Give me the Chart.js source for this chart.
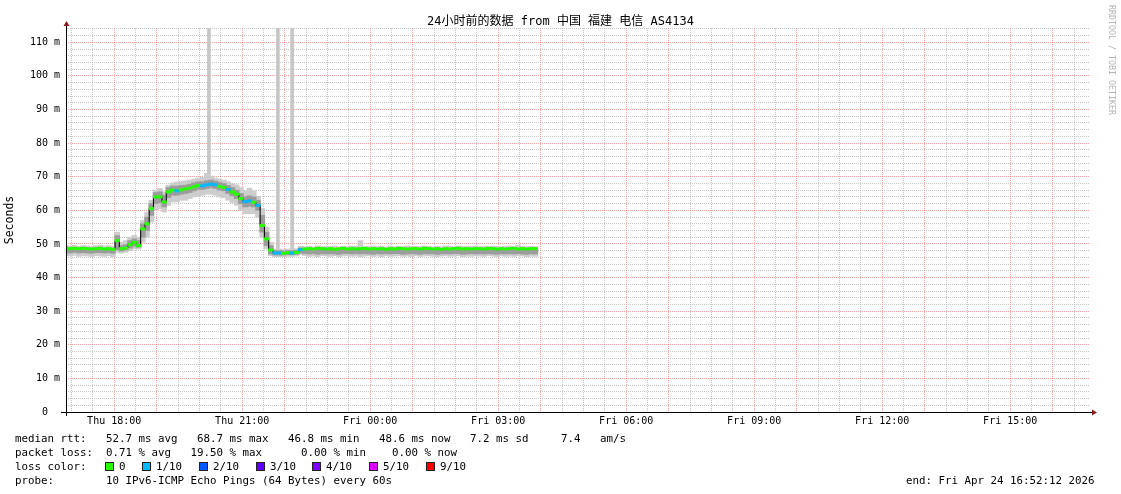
<!DOCTYPE html>
<html>
<head>
<meta charset="utf-8">
<title>SmokePing 24h</title>
<script src="https://cdn.jsdelivr.net/npm/chart.js@4.4.1/dist/chart.umd.min.js"></script>
<style>
    body { margin: 0; background: #fff; overflow: hidden; }
    #wrap { position: relative; width: 1121px; height: 494px; font-family: 'DejaVu Sans Mono', monospace; color: #000; }
    #chart { position: absolute; left: 0; top: 0; }
    .title { position: absolute; left: 0; top: 14px; width: 1121px; text-align: center; font: 12px/14px 'DejaVu Sans Mono', 'Noto Sans CJK SC', monospace; }
    .rrd { position: absolute; left: 1107px; top: 5px; writing-mode: vertical-rl; font: 8.3px/10px 'DejaVu Sans Mono', monospace; color: #b4b4b4; }
    .txt { position: absolute; font-size: 10.8px; line-height: 14px; white-space: pre; }
    .box { position: absolute; width: 7px; height: 7px; border: 1px solid #222; }
</style>
</head>
<body>
<div id="wrap">
    <canvas id="chart" width="1121" height="494"></canvas>
    <div class="title">24小时前的数据 from 中国 福建 电信 AS4134</div>
    <div class="rrd">RRDTOOL / TOBI OETIKER</div>
    <div class="txt" style="left:15px;top:431.5px">median rtt:   52.7 ms avg   68.7 ms max   46.8 ms min   48.6 ms now   7.2 ms sd     7.4   am/s</div>
    <div class="txt" style="left:15px;top:445.5px">packet loss:  0.71 % avg   19.50 % max      0.00 % min    0.00 % now</div>
    <div class="txt" style="left:15px;top:459.5px">loss color:</div>
    <div id="loss-legend"></div>
    <div class="txt" style="left:15px;top:473.5px">probe:        10 IPv6-ICMP Echo Pings (64 Bytes) every 60s</div>
    <div class="txt" style="left:906px;top:473.5px">end: Fri Apr 24 16:52:12 2026</div>
</div>
<script>
/**
 * SmokePing style latency graph, 24h window starting 16:52:12
 * x values are minutes after the graph start
 */

// consolidated rows, one every STEP_MIN minutes
const STEP_MIN = 6;

const medianRtt = [
    48.7, 48.6, 48.7, 48.6, 48.7, 48.6, 48.5, 48.6, 48.7, 48.5,
    48.6, 48.4, 51.0, 48.6, 48.8, 49.8, 50.5, 49.5, 54.5, 56.0,
    60.5, 64.0, 64.0, 62.5, 65.5, 66.0, 65.8, 66.1, 66.4, 66.6,
    67.0, 67.4, 67.3, 67.6, 67.8, 67.6, 67.1, 66.8, 66.2, 65.5,
    64.8, 63.5, 62.6, 62.8, 62.4, 61.5, 55.5, 51.5, 48.2, 47.3,
    47.3, 47.2, 47.4, 47.3, 47.5, 48.3, 48.5, 48.6, 48.5, 48.7,
    48.6, 48.5, 48.6, 48.4, 48.6, 48.7, 48.5, 48.6, 48.5, 48.6,
    48.7, 48.5, 48.6, 48.5, 48.6, 48.4, 48.6, 48.5, 48.7, 48.6,
    48.5, 48.6, 48.6, 48.5, 48.7, 48.6, 48.5, 48.6, 48.4, 48.6,
    48.5, 48.6, 48.7, 48.5, 48.6, 48.5, 48.6, 48.6, 48.5, 48.7,
    48.6, 48.5, 48.6, 48.5, 48.6, 48.7, 48.5, 48.6, 48.5, 48.6, 48.6
];

// lost pings per row (index into lossColors)
const lossTenths = [
    0, 0, 0, 0, 0, 0, 0, 0, 0, 0,
    0, 0, 0, 0, 0, 0, 0, 0, 0, 0,
    0, 0, 0, 0, 0, 0, 1, 0, 0, 0,
    0, 0, 1, 1, 1, 1, 0, 0, 1, 0,
    0, 0, 1, 1, 0, 1, 0, 0, 0, 1,
    1, 0, 0, 1, 0, 1, 0, 0, 0, 0,
    0, 0, 0, 0, 0, 0, 0, 0, 0, 0,
    0, 0, 0, 0, 0, 0, 0, 0, 0, 0,
    0, 0, 0, 0, 0, 0, 0, 0, 0, 0,
    0, 0, 0, 0, 0, 0, 0, 0, 0, 0,
    0, 0, 0, 0, 0, 0, 0, 0, 0, 0, 0
];

// outer smoke (fastest / slowest ping)
const smokeLow = [
    46.5, 46.4, 46.6, 46.3, 46.5, 46.4, 46.2, 46.5, 46.4, 46.3,
    46.5, 46.2, 47.5, 47.3, 47.5, 48.0, 48.5, 48.5, 50.5, 52.0,
    56.5, 60.0, 60.5, 59.5, 61.5, 62.5, 62.5, 63.0, 63.0, 63.5,
    64.0, 64.2, 64.5, 64.8, 64.8, 64.5, 64.0, 63.8, 63.0, 62.3,
    61.5, 60.0, 59.0, 59.0, 59.0, 58.0, 52.0, 48.5, 46.5, 46.2,
    46.2, 46.2, 46.3, 46.3, 46.4, 46.8, 46.5, 46.3, 46.4, 46.2,
    46.5, 46.4, 46.3, 46.5, 46.2, 46.4, 46.5, 46.3, 46.4, 46.2,
    46.4, 46.5, 46.3, 46.4, 46.2, 46.5, 46.3, 46.4, 46.5, 46.3,
    46.4, 46.2, 46.5, 46.3, 46.4, 46.5, 46.3, 46.2, 46.4, 46.5,
    46.3, 46.4, 46.5, 46.2, 46.4, 46.3, 46.5, 46.4, 46.3, 46.5,
    46.4, 46.2, 46.5, 46.3, 46.4, 46.3, 46.5, 46.4, 46.2, 46.4, 46.3
];
const smokeHigh = [
    49.5, 49.4, 49.6, 49.3, 49.5, 49.4, 49.3, 49.5, 49.6, 49.4,
    49.5, 49.3, 53.5, 50.5, 51.0, 52.0, 52.5, 52.0, 57.0, 59.5,
    63.0, 66.0, 66.5, 65.5, 67.5, 68.2, 68.4, 68.6, 68.8, 69.0,
    69.3, 69.6, 69.8, 71.0, 70.2, 69.6, 69.2, 69.0, 68.5, 68.0,
    67.6, 66.8, 65.8, 66.6, 65.8, 64.2, 60.5, 55.0, 50.5, 48.5,
    48.5, 48.3, 48.5, 48.5, 48.6, 49.3, 49.2, 49.3, 49.1, 49.4,
    49.2, 49.3, 49.2, 49.4, 49.1, 49.3, 49.2, 49.4, 49.3, 51.0,
    49.2, 49.3, 49.4, 49.2, 49.3, 49.1, 49.4, 49.2, 49.3, 49.2,
    49.4, 49.2, 49.3, 49.2, 49.4, 49.3, 49.1, 49.3, 49.2, 49.4,
    49.3, 49.2, 49.4, 49.3, 49.2, 49.3, 49.4, 49.2, 49.3, 49.2,
    49.4, 49.3, 49.2, 49.3, 49.4, 49.2, 49.6, 49.3, 49.2, 49.3, 49.2
];

// dense core of the smoke
const coreLow = [
    47.4, 47.3, 47.5, 47.3, 47.4, 47.3, 47.2, 47.4, 47.4, 47.3,
    47.4, 47.2, 48.3, 47.9, 48.2, 48.8, 49.3, 49.0, 52.0, 54.0,
    58.5, 62.0, 62.3, 61.0, 63.8, 64.5, 64.5, 64.8, 65.0, 65.3,
    65.8, 66.2, 66.2, 66.5, 66.8, 66.5, 66.0, 65.8, 65.0, 64.3,
    63.5, 62.0, 61.0, 61.2, 61.0, 60.0, 53.5, 49.5, 47.0, 46.7,
    46.7, 46.7, 46.8, 46.8, 46.9, 47.3, 47.1, 47.0, 47.1, 46.9,
    47.1, 47.0, 47.1, 47.0, 46.9, 47.1, 47.1, 47.0, 47.1, 47.0,
    47.1, 47.0, 46.9, 47.1, 47.0, 47.1, 47.0, 47.1, 47.1, 46.9,
    47.0, 47.1, 47.0, 46.9, 47.1, 47.0, 47.1, 46.9, 47.0, 47.1,
    47.0, 47.1, 47.1, 46.9, 47.0, 47.1, 47.0, 47.1, 47.0, 47.1,
    47.0, 46.9, 47.1, 47.0, 47.1, 47.0, 47.1, 47.0, 46.9, 47.1, 47.0
];
const coreHigh = [
    48.9, 48.8, 48.9, 48.8, 48.9, 48.8, 48.7, 48.8, 48.9, 48.7,
    48.8, 48.6, 52.5, 49.5, 49.8, 51.0, 51.5, 51.0, 56.0, 58.0,
    62.0, 65.3, 65.5, 64.5, 66.8, 67.2, 67.2, 67.4, 67.5, 67.8,
    68.2, 68.5, 68.5, 68.8, 69.0, 68.7, 68.3, 68.0, 67.4, 66.8,
    66.0, 65.0, 64.0, 64.3, 64.0, 63.0, 58.5, 53.5, 49.5, 48.0,
    48.0, 47.9, 48.0, 48.0, 48.1, 48.8, 48.7, 48.7, 48.6, 48.8,
    48.7, 48.6, 48.7, 48.6, 48.7, 48.8, 48.6, 48.7, 48.6, 48.9,
    48.7, 48.6, 48.7, 48.6, 48.7, 48.6, 48.7, 48.6, 48.8, 48.7,
    48.6, 48.7, 48.7, 48.6, 48.8, 48.7, 48.6, 48.7, 48.6, 48.7,
    48.6, 48.7, 48.8, 48.6, 48.7, 48.6, 48.7, 48.7, 48.6, 48.8,
    48.7, 48.6, 48.7, 48.6, 48.7, 48.8, 48.6, 48.7, 48.6, 48.7, 48.7
];

// single slow pings that run off the top of the graph
const spikeMinutes = [201, 298, 318];
const spikeLow = [68.0, 47.5, 47.5];
const spikeHigh = [130, 130, 130];

// axis ticks
const xLabelMinutes = [67.8, 247.8, 427.8, 607.8, 787.8, 967.8, 1147.8, 1327.8];
const xLabels = ['Thu 18:00', 'Thu 21:00', 'Fri 00:00', 'Fri 03:00', 'Fri 06:00', 'Fri 09:00', 'Fri 12:00', 'Fri 15:00'];
const yLabelValues = [0, 10, 20, 30, 40, 50, 60, 70, 80, 90, 100, 110];
const yLabels = ['0  ', '10 m', '20 m', '30 m', '40 m', '50 m', '60 m', '70 m', '80 m', '90 m', '100 m', '110 m'];

// loss legend
const lossLabels = ['0', '1/10', '2/10', '3/10', '4/10', '5/10', '9/10'];
const lossColors = ['#26ff00', '#00b8ff', '#0059ff', '#5e00ff', '#7e00ff', '#dd00ff', '#ff0000'];
const lossBoxX = [105, 142, 199, 256, 312, 369, 426];

const MONO = "'DejaVu Sans Mono', monospace";
const RED_GRID = 'rgba(255, 40, 40, 0.42)';
const GREY_GRID = 'rgba(130, 130, 130, 0.45)';

/**
 * Build the loss colour legend row
 */
function buildLossLegend() {
    const holder = document.getElementById('loss-legend');
    lossLabels.forEach(function(label, i) {
        const box = document.createElement('div');
        box.className = 'box';
        box.style.left = lossBoxX[i] + 'px';
        box.style.top = '462px';
        box.style.background = lossColors[i];
        holder.appendChild(box);

        const txt = document.createElement('div');
        txt.className = 'txt';
        txt.style.left = (lossBoxX[i] + 14) + 'px';
        txt.style.top = '459.5px';
        txt.textContent = label;
        holder.appendChild(txt);
    });
}

/**
 * Axis lines with the little rrdtool arrow heads
 */
const axisArrows = {
    id: 'axisArrows',
    afterDatasetsDraw(chart) {
        const { ctx, chartArea: a, scales } = chart;
        const yb = Math.round(scales.y.getPixelForValue(0)) + 0.5;
        const xl = Math.round(scales.x.getPixelForValue(0)) + 0.5;
        ctx.save();
        ctx.strokeStyle = '#000';
        ctx.lineWidth = 1;
        ctx.beginPath();
        ctx.moveTo(a.left - 5, yb);
        ctx.lineTo(a.right + 3, yb);
        ctx.moveTo(xl, a.bottom + 4);
        ctx.lineTo(xl, a.top - 4);
        ctx.stroke();

        ctx.fillStyle = '#8b1c1c';
        ctx.beginPath();
        ctx.moveTo(a.right + 2, yb - 3);
        ctx.lineTo(a.right + 7, yb);
        ctx.lineTo(a.right + 2, yb + 3);
        ctx.closePath();
        ctx.fill();
        ctx.beginPath();
        ctx.moveTo(xl - 3, a.top - 2);
        ctx.lineTo(xl, a.top - 7);
        ctx.lineTo(xl + 3, a.top - 2);
        ctx.closePath();
        ctx.fill();
        ctx.restore();
    }
};

/**
 * Create the graph
 */
function drawGraph() {
    const rows = medianRtt.map((v, i) => ({ x: i * STEP_MIN, y: v }));
    const outer = smokeLow.map((lo, i) => ({ x: i * STEP_MIN, y: [lo, smokeHigh[i]] }));
    const core = coreLow.map((lo, i) => ({ x: i * STEP_MIN, y: [lo, coreHigh[i]] }));
    const spikes = spikeMinutes.map((m, i) => ({ x: m, y: [spikeLow[i], spikeHigh[i]] }));

    // grid every half hour from 17:00, every 2 m on y
    const xGrid = [];
    for (let m = 7.8; m < 1440; m += 30) xGrid.push(m);
    const yGrid = [];
    for (let v = 0; v <= 114; v += 2) yGrid.push(v);

    const config = {
        type: 'line',
        data: {
            datasets: [
                {
                    type: 'line',
                    label: 'median rtt',
                    data: rows,
                    borderColor: '#000',
                    borderWidth: 1,
                    stepped: 'middle',
                    pointStyle: 'line',
                    pointRadius: 2.6,
                    pointBorderWidth: 3,
                    pointBorderColor: ctx => lossColors[lossTenths[ctx.dataIndex]],
                    pointBackgroundColor: ctx => lossColors[lossTenths[ctx.dataIndex]],
                    order: 1
                },
                {
                    type: 'bar',
                    data: core,
                    backgroundColor: '#9c9c9c',
                    barThickness: 5,
                    grouped: false,
                    order: 2
                },
                {
                    type: 'bar',
                    data: outer,
                    backgroundColor: '#cdcdcd',
                    barThickness: 5,
                    grouped: false,
                    order: 3
                },
                {
                    type: 'bar',
                    data: spikes,
                    backgroundColor: '#c6c6c6',
                    barThickness: 3,
                    grouped: false,
                    order: 4
                }
            ]
        },
        options: {
            responsive: false,
            animation: false,
            events: [],
            layout: { padding: { top: 28, right: 31, left: 0, bottom: 0 } },
            plugins: {
                legend: { display: false },
                tooltip: { enabled: false }
            },
            scales: {
                x: {
                    type: 'linear',
                    min: 0,
                    max: 1440,
                    bounds: 'data',
                    offset: false,
                    afterBuildTicks: s => { s.ticks = xGrid.map(v => ({ value: v })); },
                    afterFit: s => { s.height = 82; },
                    grid: {
                        offset: false,
                        drawTicks: false,
                        color: ctx => (ctx.index % 2 === 0 ? RED_GRID : GREY_GRID)
                    },
                    border: { display: false, dash: [1, 1] },
                    ticks: {
                        autoSkip: false,
                        maxRotation: 0,
                        padding: 3,
                        color: '#000',
                        font: { family: MONO, size: 10 },
                        callback: function(value) {
                            const k = xLabelMinutes.findIndex(m => Math.abs(m - value) < 0.01);
                            return k >= 0 ? xLabels[k] : '';
                        }
                    }
                },
                y: {
                    type: 'linear',
                    min: 0,
                    max: 114.25,
                    bounds: 'data',
                    afterBuildTicks: s => { s.ticks = yGrid.map(v => ({ value: v })); },
                    afterFit: s => { s.width = 66; },
                    grid: {
                        drawTicks: false,
                        color: ctx => (ctx.tick && ctx.tick.value % 10 === 0 ? RED_GRID : GREY_GRID)
                    },
                    border: { display: false, dash: [1, 1] },
                    title: {
                        display: true,
                        text: 'Seconds',
                        color: '#000',
                        font: { family: MONO, size: 11.5 },
                        padding: { top: 3, bottom: 0 }
                    },
                    ticks: {
                        autoSkip: false,
                        padding: 6,
                        color: '#000',
                        font: { family: MONO, size: 10 },
                        callback: function(value) {
                            const k = yLabelValues.indexOf(value);
                            return k >= 0 ? yLabels[k] : '';
                        }
                    }
                }
            }
        },
        plugins: [axisArrows]
    };

    new Chart(document.getElementById('chart'), config);
}

buildLossLegend();
drawGraph();
</script>
</body>
</html>
